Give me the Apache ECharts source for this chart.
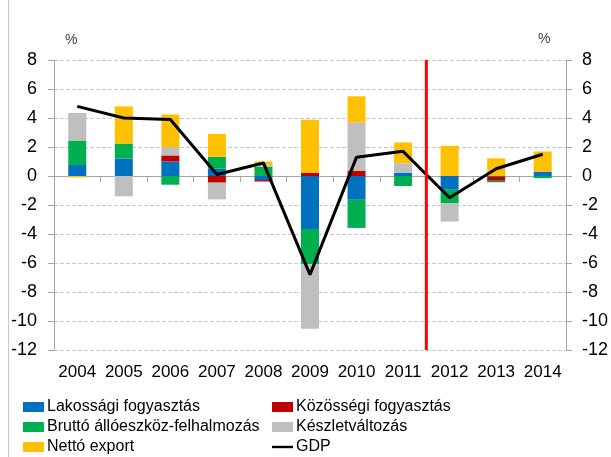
<!DOCTYPE html>
<html>
<head>
<meta charset="utf-8">
<title>GDP</title>
<script src="https://cdn.jsdelivr.net/npm/echarts@6/dist/echarts.min.js"></script>
<style>
  html, body { margin: 0; padding: 0; background: #fff; }
  #chart { width: 611px; height: 457px; }
</style>
</head>
<body>
<div id="chart"></div>
<script>
// évek
var years = ['2004', '2005', '2006', '2007', '2008', '2009', '2010', '2011', '2012', '2013', '2014']
// hozzájárulások, százalékpont
var lakossagi = [0.76, 1.2, 1.0, 0.5, -0.28, -3.65, -1.64, 0.23, -0.95, -0.05, 0.3]
var kozossegi = [0, 0, 0.42, -0.46, -0.1, 0.23, 0.37, 0, 0, -0.28, 0]
var brutto = [1.69, 1.04, -0.6, 0.83, 0.65, -2.43, -1.94, -0.69, -0.92, -0.1, -0.15]
var keszlet = [1.9, -1.4, 0.58, -1.15, 0.1, -4.46, 3.33, 0.65, -1.27, 0, 0]
var netto = [-0.1, 2.56, 2.24, 1.57, 0.25, 3.65, 1.8, 1.43, 2.08, 1.22, 1.39]
var gdp = [4.8, 4.0, 3.9, 0.1, 0.9, -6.8, 1.3, 1.7, -1.5, 0.5, 1.5]
// előrejelzés kezdete (piros függőleges vonal)
var forecastStart = '2012'
var yMin = -12
var yMax = 8

var font = 'Liberation Sans, Arial, sans-serif'
var chart = echarts.init(document.getElementById('chart'))

function barSerie(name, data, color) {
  return {
    name: name,
    type: 'bar',
    stack: 'total',
    barWidth: 18,
    data: data,
    itemStyle: { color: color }
  }
}

var splitX = years.indexOf(forecastStart)
// vékony vonal ikon a GDP-hez (a moveTo pontok adják a keretet)
var lineIcon = 'path://M0,0 M21,10 M0,3.8 L21,3.8 L21,6.2 L0,6.2 Z'

var legendBase = {
  orient: 'vertical',
  top: 397,
  height: 60,
  padding: 0,
  itemWidth: 21,
  itemHeight: 10,
  itemGap: 0,
  icon: 'rect',
  textStyle: { fontSize: 16, color: '#000', lineHeight: 20, fontFamily: font, padding: [0, 0, 0, -2] }
}

chart.setOption({
  animation: false,
  textStyle: { fontFamily: font },
  grid: { left: 54, right: 45, top: 60, bottom: 107, containLabel: false },
  legend: [
    Object.assign({}, legendBase, {
      left: 23,
      data: ['Lakossági fogyasztás', 'Bruttó állóeszköz-felhalmozás', 'Nettó export']
    }),
    Object.assign({}, legendBase, {
      left: 272,
      data: ['Közösségi fogyasztás', 'Készletváltozás', { name: 'GDP', icon: lineIcon }]
    })
  ],
  xAxis: [
    {
      type: 'category',
      data: years,
      axisLine: { onZero: true, lineStyle: { color: '#A6A6A6', width: 1 } },
      axisTick: { show: true, length: 6, lineStyle: { color: '#A6A6A6' } },
      axisLabel: { show: false }
    },
    {
      type: 'category',
      data: years,
      position: 'bottom',
      axisLine: { show: false, onZero: false },
      axisTick: { show: false },
      axisLabel: { interval: 0, color: '#000', fontSize: 17, margin: 14, fontFamily: font }
    },
    {
      type: 'value',
      min: 0,
      max: years.length,
      show: false
    }
  ],
  yAxis: [
    {
      type: 'value',
      min: yMin,
      max: yMax,
      interval: 2,
      position: 'left',
      axisLine: { show: true, lineStyle: { color: '#A6A6A6' } },
      axisTick: { show: true, length: 6, lineStyle: { color: '#A6A6A6' } },
      axisLabel: { color: '#000', fontSize: 18, margin: 17, fontFamily: font },
      splitLine: { show: true, lineStyle: { color: '#C8C8C8', type: 'dashed', width: 1 } }
    },
    {
      type: 'value',
      min: yMin,
      max: yMax,
      interval: 2,
      position: 'right',
      axisLine: { show: true, lineStyle: { color: '#A6A6A6' } },
      axisTick: { show: true, length: 6, lineStyle: { color: '#A6A6A6' } },
      axisLabel: { color: '#000', fontSize: 18, margin: 16, fontFamily: font },
      splitLine: { show: false }
    }
  ],
  graphic: [
    { type: 'text', left: 65, top: 33, style: { text: '%', fontSize: 14, fill: '#404040', fontFamily: font } },
    { type: 'text', left: 538, top: 32, style: { text: '%', fontSize: 14, fill: '#404040', fontFamily: font } },
    { type: 'line', shape: { x1: 8.5, y1: 0, x2: 8.5, y2: 457 }, style: { stroke: '#C8C8C8', lineWidth: 1 } }
  ],
  series: [
    barSerie('Lakossági fogyasztás', lakossagi, '#0070C0'),
    barSerie('Közösségi fogyasztás', kozossegi, '#C00000'),
    barSerie('Bruttó állóeszköz-felhalmozás', brutto, '#00B050'),
    barSerie('Készletváltozás', keszlet, '#BFBFBF'),
    barSerie('Nettó export', netto, '#FFC000'),
    {
      name: 'GDP',
      type: 'line',
      data: gdp,
      symbol: 'none',
      lineStyle: { color: '#000', width: 3 },
      itemStyle: { color: '#000' },
      z: 5
    },
    {
      name: 'forecast',
      type: 'line',
      xAxisIndex: 2,
      data: [[splitX, yMax], [splitX, yMin]],
      symbol: 'none',
      lineStyle: { color: '#FF0000', width: 3 },
      z: 6
    }
  ]
})
</script>
</body>
</html>
